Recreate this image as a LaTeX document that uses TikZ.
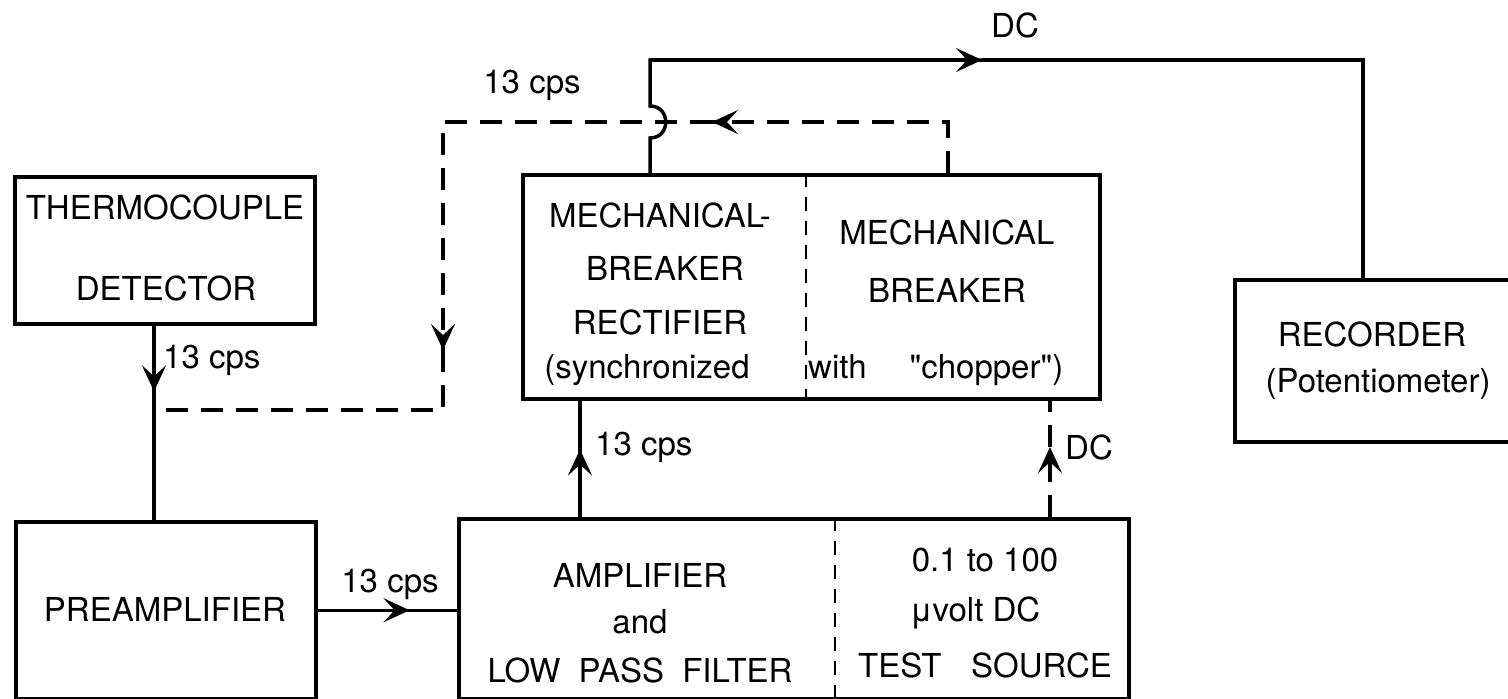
\documentclass[tikz,border=0pt]{standalone}
\usepackage{fontspec}
\setmainfont{TeX Gyre Heros}
\usetikzlibrary{arrows.meta,decorations.markings,calc}
\begin{document}
\begin{tikzpicture}[x=1pt,y=-1pt,
  ln/.style={line width=3.5pt},
  box/.style={draw, line width=3.5pt, rectangle, inner sep=0pt, anchor=north west},
  dsh/.style={line width=3.5pt, dash pattern=on 22pt off 13pt},
  divd/.style={line width=2pt, dash pattern=on 14pt off 10pt},
  lbl/.style={font=\fontsize{33}{38}\selectfont, inner sep=0pt},
  tip/.style={-{Stealth[length=26pt,width=24pt,inset=11pt]}},
  arrowat/.style={postaction={decorate}, decoration={markings, mark=at position #1 with {\arrow{Stealth[length=26pt,width=24pt,inset=11pt]}}}}
]
\useasboundingbox (0,0) rectangle (1508,699);

% boxes
\node[box, minimum width=300pt, minimum height=147pt] (thermo) at (13,175) {};
\node[box, minimum width=300pt, minimum height=177pt] (pre) at (14,520) {};
\node[box, minimum width=670pt, minimum height=180pt] (amp) at (457,517) {};
\node[box, minimum width=577pt, minimum height=224pt] (mech) at (521,173) {};
\node[box, minimum width=300pt, minimum height=162pt] (rec) at (1233,278) {};

% dividers
\coordinate (ampdiv) at (835,0);
\coordinate (mechdiv) at (806,0);
\draw[divd] (amp.north -| ampdiv) -- (amp.south -| ampdiv);
\draw[divd] (mech.north -| mechdiv) -- (mech.south -| mechdiv);

% box texts
\node[lbl] (t1) at (165,207) {THERMOCOUPLE};
\node[lbl] (t2) at (166,288) {DETECTOR};
\node[lbl] (p1) at (165,609) {PREAMPLIFIER};
\node[lbl] (a1) at (640,575) {AMPLIFIER};
\node[lbl] (a2) at (640,622) {and};
\node[lbl] (a3) at (640,670) {LOW\hspace{0.55em}PASS\hspace{0.55em}FILTER};
\node[lbl] (s1) at (985,560) {0.1 to 100};
\node[lbl] (s2) at (975,613) {μvolt DC};
\node[lbl] (s3) at (985,665) {TEST\hspace{0.9em}SOURCE};
\node[lbl] (m1) at (660,215) {MECHANICAL-};
\node[lbl] (m2) at (665,268) {BREAKER};
\node[lbl] (m3) at (660,322) {RECTIFIER};
\node[lbl] (m4) at (647,370) {(synchronized};
\node[lbl] (n1) at (947,232) {MECHANICAL};
\node[lbl] (n2) at (947,290) {BREAKER};
\node[lbl, anchor=west] (n3) at (808,370) {with\hspace{1.3em}\textquotedbl chopper\textquotedbl)};
\node[lbl] (r1) at (1372,334) {RECORDER};
\node[lbl] (r2) at (1378,384) {(Potentiometer)};

% coordinates
\coordinate (j) at (154,410);
\coordinate (dbl) at (443,410);
\coordinate (darr) at (443,350);
\coordinate (dl) at (443,122);
\coordinate (larr) at (712,122);
\coordinate (dr) at (948,122);
\coordinate (hb) at (650,138);
\coordinate (ht) at (650,106);
\coordinate (tl) at (650,60);
\coordinate (tarr) at (982,60);
\coordinate (tr) at (1363,60);
\coordinate (up1) at (580,0);
\coordinate (up2) at (1050,0);

% solid connectors
\draw[ln, arrowat=0.78] (thermo.south -| j) -- (j);
\draw[ln] (j) -- (pre.north -| j);
\draw[ln, arrowat=0.66] (pre.east) -- (amp.west |- pre.east);
\draw[ln, arrowat=0.58] (amp.north -| up1) -- (mech.south -| up1);
\draw[ln] (mech.north -| hb) -- (hb) .. controls ($(hb)+(21,0)$) and ($(ht)+(21,0)$) .. (ht) -- (tl) -- (tarr);
\draw[ln, tip] (tl) -- (tarr);
\draw[ln] (tarr) -- (tr) -- (rec.north -| tr);

% dashed connectors
\draw[dsh, arrowat=0.6] (amp.north -| up2) -- (mech.south -| up2);
\draw[dsh] (mech.north -| dr) -- (dr) -- (larr);
\draw[ln, tip] ($(larr)+(14,0)$) -- (larr);
\draw[dsh] (larr) -- (dl) -- (darr);
\draw[ln, tip] ($(darr)+(0,-14)$) -- (darr);
\draw[dsh] (darr) -- (dbl) -- (j);

% connector labels
\node[lbl] (l1) at (532,85) {13 cps};
\node[lbl] (l2) at (1015,25) {DC};
\node[lbl, anchor=west] (l3) at (163,360) {13 cps};
\node[lbl] (l4) at (390,584) {13 cps};
\node[lbl, anchor=west] (l5) at (595,447) {13 cps};
\node[lbl, anchor=west] (l6) at (1065,447) {DC};
\end{tikzpicture}
\end{document}
